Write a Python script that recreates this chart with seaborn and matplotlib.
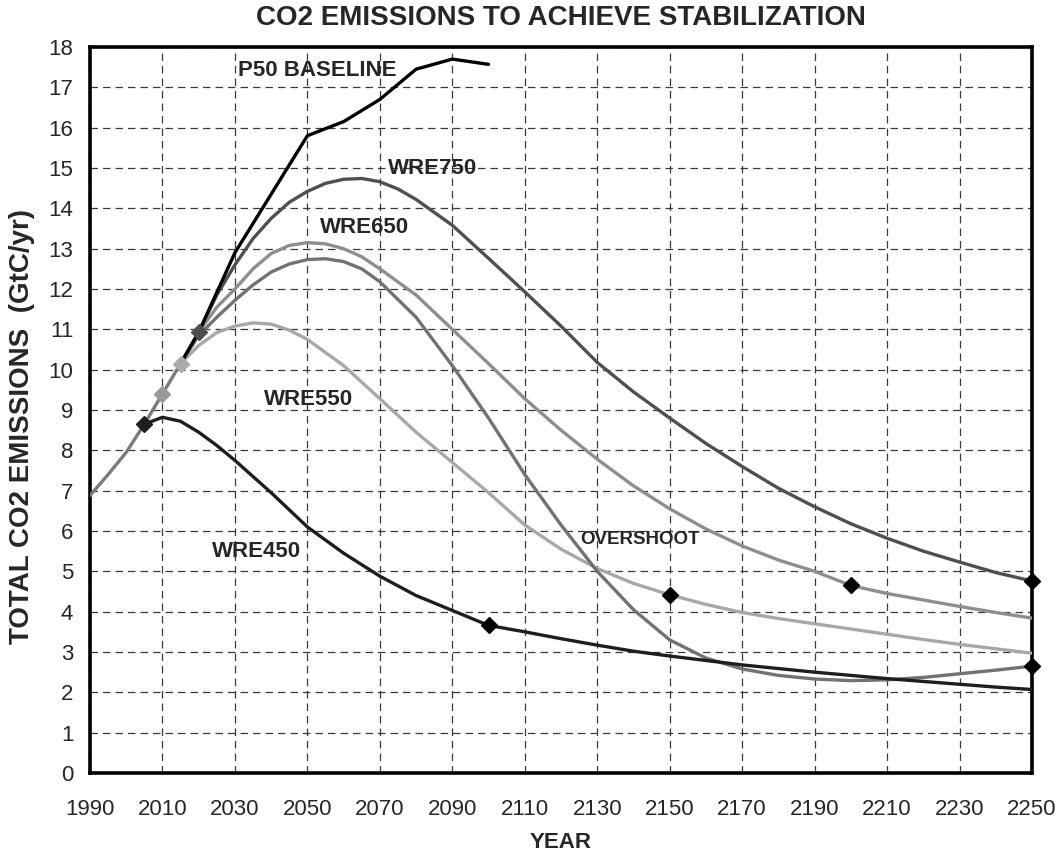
import matplotlib
matplotlib.use("Agg")
import matplotlib.pyplot as plt
import seaborn as sns
import pandas as pd

# ---------------- data ----------------
common_years = [1990, 1995, 2000, 2005, 2010, 2015, 2020]
common_vals = [6.88, 7.40, 7.95, 8.65, 9.40, 10.15, 10.93]

p50_years = [2015, 2020, 2030, 2040, 2050, 2060, 2070, 2080, 2090, 2100]
p50_vals = [10.15, 10.93, 12.90, 14.35, 15.80, 16.15, 16.70, 17.45, 17.70, 17.57]

wre750_years = [2020, 2025, 2030, 2035, 2040, 2045, 2050, 2055, 2060, 2065, 2070, 2075, 2080,
                2090, 2100, 2110, 2120, 2130, 2140, 2150, 2160, 2170, 2180, 2190, 2200,
                2210, 2220, 2230, 2240, 2250]
wre750_vals = [10.93, 11.85, 12.60, 13.25, 13.75, 14.15, 14.42, 14.62, 14.72, 14.74, 14.66, 14.48, 14.22,
               13.58, 12.76, 11.93, 11.08, 10.18, 9.45, 8.80, 8.17, 7.60, 7.06, 6.60, 6.18,
               5.82, 5.50, 5.23, 4.97, 4.76]

wre650_years = [2020, 2025, 2030, 2035, 2040, 2045, 2050, 2055, 2060, 2065, 2070, 2080,
                2090, 2100, 2110, 2120, 2130, 2140, 2150, 2160, 2170, 2180, 2190, 2200,
                2210, 2220, 2230, 2240, 2250]
wre650_vals = [10.93, 11.55, 12.00, 12.50, 12.88, 13.08, 13.15, 13.12, 13.00, 12.80, 12.50, 11.85,
               11.00, 10.15, 9.28, 8.50, 7.78, 7.12, 6.55, 6.05, 5.63, 5.28, 5.00, 4.65,
               4.45, 4.29, 4.13, 3.98, 3.84]

overshoot_years = [2015, 2020, 2025, 2030, 2035, 2040, 2045, 2050, 2055, 2060, 2065, 2070, 2080,
                   2090, 2100, 2110, 2120, 2130, 2140, 2150, 2160, 2170, 2180, 2190, 2200,
                   2210, 2220, 2230, 2240, 2250]
overshoot_vals = [10.15, 10.85, 11.30, 11.72, 12.10, 12.42, 12.62, 12.73, 12.75, 12.68, 12.50, 12.18, 11.30,
                  10.10, 8.80, 7.40, 6.15, 5.00, 4.05, 3.30, 2.85, 2.58, 2.42, 2.33, 2.29,
                  2.31, 2.37, 2.46, 2.55, 2.65]

wre550_years = [2015, 2020, 2025, 2030, 2035, 2040, 2045, 2050, 2060, 2070, 2080, 2090, 2100,
                2110, 2120, 2130, 2140, 2150, 2160, 2170, 2180, 2190, 2200, 2210, 2220,
                2230, 2240, 2250]
wre550_vals = [10.15, 10.60, 10.92, 11.08, 11.16, 11.13, 10.98, 10.75, 10.10, 9.28, 8.45, 7.70, 6.95,
               6.15, 5.55, 5.07, 4.70, 4.42, 4.18, 3.98, 3.83, 3.70, 3.57, 3.44, 3.31,
               3.19, 3.08, 2.97]

wre450_years = [2005, 2010, 2015, 2020, 2025, 2030, 2035, 2040, 2050, 2060, 2070, 2080, 2090,
                2100, 2110, 2120, 2130, 2140, 2150, 2160, 2170, 2180, 2190, 2200, 2210,
                2220, 2230, 2240, 2250]
wre450_vals = [8.65, 8.82, 8.72, 8.45, 8.12, 7.75, 7.35, 6.95, 6.10, 5.45, 4.88, 4.40, 4.03,
               3.66, 3.50, 3.33, 3.17, 3.02, 2.90, 2.79, 2.68, 2.59, 2.50, 2.42, 2.34,
               2.27, 2.20, 2.13, 2.07]

# stabilisation markers (black diamonds)
stab_years = [2100, 2150, 2200, 2250, 2250]
stab_vals = [3.66, 4.42, 4.65, 4.76, 2.65]

# branch-point markers
branch_years = [2005, 2010, 2015, 2020]
branch_vals = [8.65, 9.40, 10.15, 10.93]
branch_colors = ["#1e1e1e", "#999999", "#ababab", "#4f4f4f"]

x_ticks = list(range(1990, 2251, 20))
y_ticks = list(range(0, 19))

labels = ["P50 BASELINE", "WRE750", "WRE650", "WRE550", "WRE450", "OVERSHOOT"]

# ---------------- style ----------------
sns.set_style("white")
plt.rcParams["font.family"] = ["Liberation Sans", "DejaVu Sans"]

fig = plt.figure(figsize=(10.63, 8.59), dpi=100)
ax = fig.add_axes([90 / 1063, 1 - 773 / 859, (1032 - 90) / 1063, (773 - 47) / 859])

lw = 2.4
series = [
    (common_years, common_vals, "#7a7a7a"),
    (wre550_years, wre550_vals, "#a8a8a8"),
    (wre650_years, wre650_vals, "#8e8e8e"),
    (overshoot_years, overshoot_vals, "#727272"),
    (wre750_years, wre750_vals, "#4f4f4f"),
    (wre450_years, wre450_vals, "#1e1e1e"),
    (p50_years, p50_vals, "#000000"),
]
for yrs, vals, col in series:
    df = pd.DataFrame({"year": yrs, "val": vals})
    sns.lineplot(data=df, x="year", y="val", color=col, linewidth=lw, ax=ax,
                 estimator=None, sort=False, zorder=3)

for yr, v, c in zip(branch_years, branch_vals, branch_colors):
    ax.plot([yr], [v], marker="D", markersize=8, color=c, zorder=5, clip_on=False)
ax.plot(stab_years, stab_vals, linestyle="none", marker="D", markersize=8,
        color="black", zorder=6, clip_on=False)

ax.set_xlim(1990, 2250)
ax.set_ylim(0, 18)
ax.set_xticks(x_ticks)
ax.set_yticks(y_ticks)
ax.grid(True, linestyle=(0, (6, 4)), color="#3a3a3a", linewidth=0.9)
ax.set_axisbelow(True)

for s in ax.spines.values():
    s.set_visible(True)
    s.set_linewidth(2.6)
    s.set_color("black")

ax.tick_params(axis="both", direction="in", length=5, width=1.8, labelsize=16,
               color="black")
ax.tick_params(axis="x", pad=19)
ax.tick_params(axis="y", pad=12)

ax.set_xlabel("YEAR", fontsize=16, fontweight="bold", labelpad=8)
ax.set_ylabel("TOTAL CO2 EMISSIONS  (GtC/yr)", fontsize=20, fontweight="bold")
ax.yaxis.set_label_coords(-(90 - 35) / 942, (773 - 427) / 726)
fig.text(561 / 1063, 1 - 18 / 859, "CO2 EMISSIONS TO ACHIEVE STABILIZATION",
         ha="center", va="center", fontsize=20, fontweight="bold")

# annotations
ann = dict(fontsize=16, fontweight="bold", ha="left", va="center")
ax.text(2030.8, 17.42, labels[0], **ann)
ax.text(2072.3, 15.0, labels[1], **ann)
ax.text(2053.5, 13.52, labels[2], **ann)
ax.text(2038, 9.25, labels[3], **ann)
ax.text(2023.7, 5.5, labels[4], **ann)
ax.text(2125.3, 5.8, labels[5], fontsize=13.5, fontweight="bold", ha="left", va="center")

fig.savefig("out.png", dpi=100)
